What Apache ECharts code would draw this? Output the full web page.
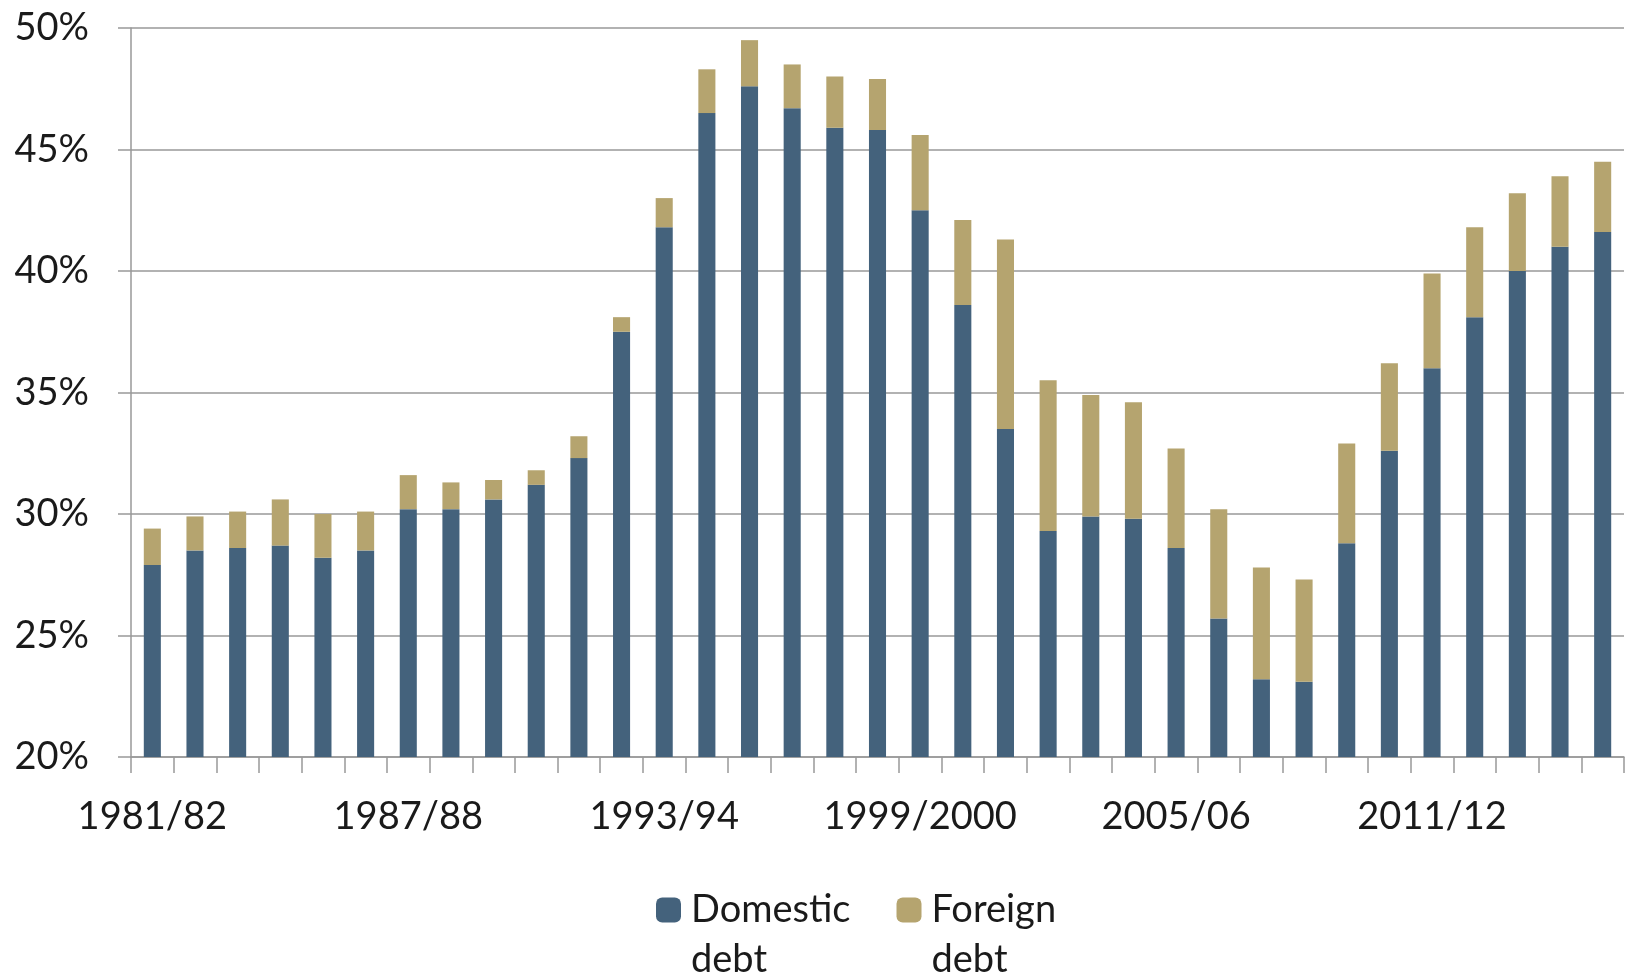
<!DOCTYPE html>
<html>
<head>
<meta charset="utf-8">
<script src="https://cdn.jsdelivr.net/npm/echarts@6/dist/echarts.min.js"></script>
<style>
  html, body { margin: 0; padding: 0; background: #fff; }
  #chart { width: 1627px; height: 978px; }
</style>
</head>
<body>
<div id="chart"></div>
<script>
const years = [
  '1981/82', '1982/83', '1983/84', '1984/85', '1985/86', '1986/87', '1987/88',
  '1988/89', '1989/90', '1990/91', '1991/92', '1992/93', '1993/94', '1994/95',
  '1995/96', '1996/97', '1997/98', '1998/99', '1999/2000', '2000/01', '2001/02',
  '2002/03', '2003/04', '2004/05', '2005/06', '2006/07', '2007/08', '2008/09',
  '2009/10', '2010/11', '2011/12', '2012/13', '2013/14', '2014/15', '2015/16'
];
// % of GDP
const domesticDebt = [
  27.9, 28.5, 28.6, 28.7, 28.2, 28.5, 30.2, 30.2, 30.6, 31.2, 32.3, 37.5,
  41.8, 46.5, 47.6, 46.7, 45.9, 45.8, 42.5, 38.6, 33.5, 29.3, 29.9, 29.8,
  28.6, 25.7, 23.2, 23.1, 28.8, 32.6, 36.0, 38.1, 40.0, 41.0, 41.6
];
const foreignDebt = [
  1.5, 1.4, 1.5, 1.9, 1.8, 1.6, 1.4, 1.1, 0.8, 0.6, 0.9, 0.6,
  1.2, 1.8, 1.9, 1.8, 2.1, 2.1, 3.1, 3.5, 7.8, 6.2, 5.0, 4.8,
  4.1, 4.5, 4.6, 4.2, 4.1, 3.6, 3.9, 3.7, 3.2, 2.9, 2.9
];

const font = 'Lato, "Noto Sans", sans-serif';
const gridGray = '#999999';

const chart = echarts.init(document.getElementById('chart'));
chart.setOption({
  animation: false,
  color: ['#44627c', '#b5a46f'],
  grid: { left: 131, right: 3, top: 28, bottom: 221 },
  legend: {
    left: 656,
    top: 835,
    padding: 0,
    itemWidth: 25,
    itemHeight: 25,
    itemGap: 46,
    // empty first line keeps the square level with the first text line
    formatter: name => '\n' + name,
    textStyle: {
      fontFamily: font,
      fontSize: 38,
      color: '#1a1a1a',
      lineHeight: 50,
      padding: [0, 0, 0, 5]
    },
    data: ['Domestic\ndebt', 'Foreign\ndebt']
  },
  xAxis: {
    type: 'category',
    data: years,
    axisLine: { lineStyle: { color: gridGray, width: 1.5 } },
    axisTick: { show: true, interval: 0, length: 16, lineStyle: { color: gridGray, width: 1.5 } },
    axisLabel: {
      interval: 5,
      margin: 41,
      fontFamily: font,
      fontSize: 38,
      color: '#1a1a1a'
    }
  },
  yAxis: {
    type: 'value',
    min: 20,
    max: 50,
    interval: 5,
    axisLine: { show: true, lineStyle: { color: gridGray, width: 1.5 } },
    axisTick: { show: true, length: 13, lineStyle: { color: gridGray, width: 1.5 } },
    splitLine: { lineStyle: { color: gridGray, width: 1.5 } },
    axisLabel: {
      formatter: '{value}%',
      margin: 42,
      fontFamily: font,
      fontSize: 38,
      color: '#1a1a1a'
    }
  },
  series: [
    {
      name: 'Domestic\ndebt',
      type: 'bar',
      stack: 'debt',
      barWidth: '40%',
      data: domesticDebt
    },
    {
      name: 'Foreign\ndebt',
      type: 'bar',
      stack: 'debt',
      barWidth: '40%',
      data: foreignDebt
    }
  ]
});
</script>
</body>
</html>
